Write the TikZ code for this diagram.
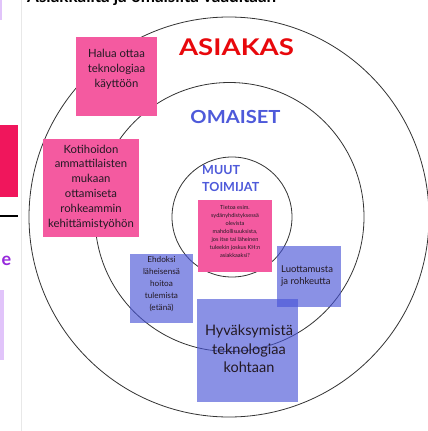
\documentclass[tikz,border=0pt]{standalone}
\usepackage{fontspec}
\setmainfont{Lato}
\definecolor{pinkbox}{RGB}{244,90,160}
\definecolor{bluebox}{RGB}{70,82,215}
\definecolor{headblue}{RGB}{78,90,218}
\definecolor{headred}{RGB}{232,8,12}
\definecolor{txtdark}{RGB}{35,25,35}
\definecolor{uipink}{RGB}{240,22,92}
\definecolor{uipurple}{RGB}{150,40,220}
\definecolor{uilav}{RGB}{225,196,250}
\definecolor{uigray}{RGB}{232,232,232}
\tikzset{
  ring/.style={circle, draw=black!80, line width=0.8pt, inner sep=0pt},
  pbox/.style={rectangle, fill=pinkbox, inner sep=0pt},
  bbox/.style={rectangle, fill=bluebox, fill opacity=0.63, inner sep=0pt},
  txt/.style={align=center, text=txtdark, inner sep=0pt},
  head/.style={font=\bfseries, inner sep=0pt},
}
\begin{document}
\begin{tikzpicture}[x=1pt,y=-1pt]
\useasboundingbox (0,0) rectangle (428,431);
\clip (0,0) rectangle (428,431);
\fill[white] (0,0) rectangle (428,431);
% screenshot side artifacts
\fill[uilav] (0,0) rectangle (2,20);
\fill[uigray] (21,0) rectangle (22.2,431);
\fill[uipink] (0,125) rectangle (18,197);
\fill[black] (0,215) rectangle (18,217);
\node[head, text=uipurple, font=\fontsize{18}{18}\selectfont\bfseries] (ue) at (6.5,261) {e};
\fill[uilav] (0,290) rectangle (3.5,360);
% cut-off title
\node[anchor=base west, inner sep=0pt, font=\fontsize{17}{17}\selectfont\bfseries] (title) at (27,2.5) {Asiakkailta ja omaisilta vaaditaan};
% circles
\node[ring, minimum size=400pt] (outer) at (229,217) {};
\node[ring, minimum size=269pt] (middle) at (229.5,217) {};
\node[ring, minimum size=120pt] (inner) at (232,217) {};
% pink boxes
\node[pbox, minimum width=81pt, minimum height=79pt] (b1) at (116.5,76.5) {};
\node[txt, font=\fontsize{11.3}{15}\selectfont] (t1) at (116.5,69) {Halua ottaa\\teknologiaa\\käyttöön};
\node[pbox, minimum width=96pt, minimum height=98pt] (b2) at (91,188) {};
\node[txt, font=\fontsize{11.3}{14.8}\selectfont] (t2) at (91,187) {Kotihoidon\\ammattilaisten\\mukaan\\ottamiseta\\rohkeammin\\kehittämistyöhön};
\node[pbox, minimum width=74pt, minimum height=72pt] (b3) at (235,236) {};
\node[txt, font=\fontsize{5.6}{8}\selectfont] (t3) at (235,231) {Tietoa esim.\\sydänyhdistyksessä\\olevista\\mahdollisuuksista,\\jos itse tai läheinen\\tuleekin joskus KH:n\\asiakkaaksi?};
% blue boxes
\node[bbox, minimum width=63pt, minimum height=69pt] (b4) at (161.5,288.5) {};
\node[txt, font=\fontsize{8.2}{11.8}\selectfont] (t4) at (161.5,284) {Ehdoksi\\läheisensä\\hoitoa\\tulemista\\(etänä)};
\node[bbox, minimum width=64pt, minimum height=61pt] (b5) at (309,276.5) {};
\node[txt, align=left, anchor=west, font=\fontsize{9.5}{11.5}\selectfont] (t5) at (281,276) {Luottamusta\\ja rohkeutta};
\node[bbox, minimum width=101pt, minimum height=103pt] (b6) at (247.5,350.5) {};
\node[txt, font=\fontsize{14.5}{18.5}\selectfont] (t6) at (249,349) {Hyväksymistä\\teknologiaa\\kohtaan};
% headings
\node[head, text=headred, font=\fontsize{23}{23}\selectfont\bfseries] (asiakas) at (236.5,47) {\scalebox{1.2}[1]{ASIAKAS}};
\node[head, text=headblue, font=\fontsize{18}{18}\selectfont\bfseries] (omaiset) at (235.5,117) {\scalebox{1.12}[1]{OMAISET}};
\node[head, text=headblue, align=left, anchor=north west, font=\fontsize{12.5}{17}\selectfont\bfseries] (muut) at (202,165) {MUUT\\TOIMIJAT};
\end{tikzpicture}
\end{document}
